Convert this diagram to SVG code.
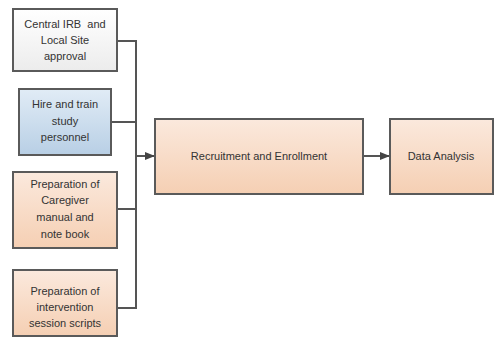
<svg xmlns="http://www.w3.org/2000/svg" width="497" height="345" viewBox="0 0 497 345">
<style>
.box{stroke:#5a5a5a;stroke-width:2}
.t{font-family:"Liberation Sans",Arial,sans-serif;font-size:11px;fill:#333;text-anchor:middle}
.c{fill:none;stroke:#555;stroke-width:2}
</style>
<defs>
<linearGradient id="gw" x1="0" y1="0" x2="0" y2="1"><stop offset="0" stop-color="#ffffff"/><stop offset="1" stop-color="#ececec"/></linearGradient>
<linearGradient id="gb" x1="0" y1="0" x2="0" y2="1"><stop offset="0" stop-color="#e1ecf6"/><stop offset="1" stop-color="#b8cfe5"/></linearGradient>
<linearGradient id="gp" x1="0" y1="0" x2="0" y2="1"><stop offset="0" stop-color="#fbe9dd"/><stop offset="1" stop-color="#f5cfb3"/></linearGradient>
<marker id="ah" viewBox="0 0 10 10" refX="9" refY="5" markerWidth="5" markerHeight="5" orient="auto" markerUnits="strokeWidth"><path d="M0,1 L10,5 L0,9 Z" fill="#444"/></marker>
</defs>
<g id="connectors">
<path class="c" d="M117,41 H136 V308 H117"/>
<path class="c" d="M111,122 H136"/>
<path class="c" d="M117,209 H136"/>
<path class="c" d="M136,156 H154" marker-end="url(#ah)"/>
<path class="c" d="M363,156 H389" marker-end="url(#ah)"/>
</g>
<g id="n1"><rect class="box" x="13" y="9" width="104" height="62" fill="url(#gw)"/>
<text class="t" x="65" y="28" style="white-space:pre">Central IRB  and</text><text class="t" x="65" y="44">Local Site</text><text class="t" x="65" y="60">approval</text></g>
<g id="n2"><rect class="box" x="19" y="89" width="92" height="66" fill="url(#gb)"/>
<text class="t" x="65" y="108">Hire and train</text><text class="t" x="65" y="125">study</text><text class="t" x="65" y="141">personnel</text></g>
<g id="n3"><rect class="box" x="13" y="172" width="104" height="76" fill="url(#gp)"/>
<text class="t" x="65" y="188">Preparation of</text><text class="t" x="65" y="204">Caregiver</text><text class="t" x="65" y="221">manual and</text><text class="t" x="65" y="238">note book</text></g>
<g id="n4"><rect class="box" x="13" y="270" width="104" height="66" fill="url(#gp)"/>
<text class="t" x="65" y="295">Preparation of</text><text class="t" x="65" y="311">intervention</text><text class="t" x="65" y="327">session scripts</text></g>
<g id="n5"><rect class="box" x="155" y="119" width="208" height="75" fill="url(#gp)"/>
<text class="t" x="259" y="160">Recruitment and Enrollment</text></g>
<g id="n6"><rect class="box" x="390" y="119" width="103" height="75" fill="url(#gp)"/>
<text class="t" x="441" y="160">Data Analysis</text></g>
</svg>
